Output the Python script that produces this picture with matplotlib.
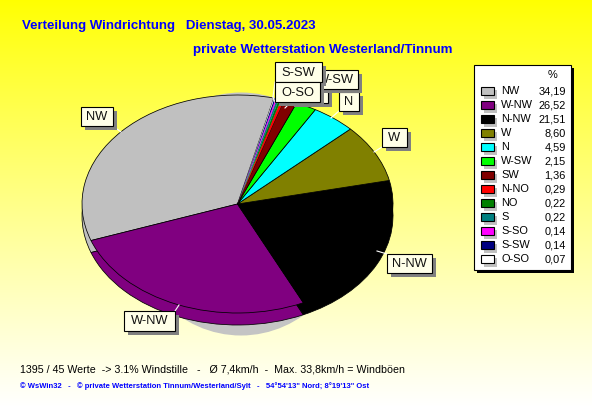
import numpy as np
import matplotlib
matplotlib.use("Agg")
import matplotlib.pyplot as plt
from matplotlib.patches import Rectangle, Ellipse

categories = ["NW", "W-NW", "N-NW", "W", "N", "W-SW", "SW", "N-NO", "NO", "S", "S-SO", "S-SW", "O-SO"]
values = [34.19, 26.52, 21.51, 8.60, 4.59, 2.15, 1.36, 0.29, 0.22, 0.22, 0.14, 0.14, 0.07]
value_labels = ["34,19", "26,52", "21,51", "8,60", "4,59", "2,15", "1,36", "0,29", "0,22", "0,22", "0,14", "0,14", "0,07"]
colors = ["#c0c0c0", "#800080", "#000000", "#808000", "#00ffff", "#00ff00", "#800000",
          "#ff0000", "#008000", "#008080", "#ff00ff", "#000080", "#ffffff"]

W, H = 592, 407
CX, CY, RX, RY, DEPTH = 237.5, 204, 155.5, 109, 12
plt.rcParams["font.family"] = ["Liberation Sans", "DejaVu Sans"]
fig = plt.figure(figsize=(W / 100, H / 100), dpi=100)

# gradient background, pixel coordinates
bg = fig.add_axes([0, 0, 1, 1], zorder=0)
bg.axis("off")
ramp = np.ones((H, 1, 3))
ramp[:, 0, 2] = np.linspace(0, 1, H) ** 0.9
bg.imshow(ramp, extent=(0, W, H, 0), aspect="auto", zorder=0)
bg.set_xlim(0, W); bg.set_ylim(H, 0)
bg.add_patch(Ellipse((241, 214), 226, 243, fc="#c4c4c4", ec="none", zorder=1))

# pie: unit circle mapped to an ellipse
ax = fig.add_axes([0, 0, 1, 1], zorder=1)
ax.patch.set_alpha(0)
START = 76.5
for cy in (-DEPTH / RY, 0):
    wedges, _ = ax.pie(values, colors=colors, startangle=START, center=(0, cy),
                       wedgeprops=dict(edgecolor="black", linewidth=0.55))
    for wedge, v in zip(wedges, values):
        if v < 1:
            wedge.set_linewidth(0)
ax.set_aspect("auto")
ax.set_xlim(-CX / RX, (W - CX) / RX)
ax.set_ylim(-(H - CY) / RY, CY / RY)
ax.axis("off")

# overlay with texts, callouts and legend
ov = fig.add_axes([0, 0, 1, 1], zorder=2)
ov.set_xlim(0, W); ov.set_ylim(H, 0); ov.axis("off"); ov.patch.set_alpha(0)

BLUE = "#0000ff"
ov.text(22, 26.5, "Verteilung Windrichtung   Dienstag, 30.05.2023", color=BLUE, fontsize=9.5,
        fontweight="bold", va="center", ha="left")
ov.text(193, 49.5, "private Wetterstation Westerland/Tinnum", color=BLUE, fontsize=9.6,
        fontweight="bold", va="center", ha="left")
ov.text(20, 369, "1395 / 45 Werte  -> 3.1% Windstille   -   Ø 7,4km/h  -  Max. 33,8km/h = Windböen",
        color="black", fontsize=7.7, va="center", ha="left")
ov.text(20, 386, "© WsWin32   -   © private Wetterstation Tinnum/Westerland/Sylt   -   54°54'13\" Nord; 8°19'13\" Ost",
        color=BLUE, fontsize=5.5, fontweight="bold", va="center", ha="left")

# callouts: label, box (x0, y0, x1, y1), leader (x0, y0, x1, y1)
callouts = [
    ("NW", (81, 107, 113, 126), (113, 126, 121, 132)),
    ("W-NW", (124, 311, 175, 331), (175, 311, 179, 305)),
    ("N-NW", (387, 254, 432, 273), (387, 254, 377, 251)),
    ("W", (382, 128, 407, 147), (382, 147, 374, 152)),
    ("N", (339, 92, 359, 111), (339, 111, 331, 118)),
    ("", (290, 83, 328, 103), (290, 103, 285, 108)),
    ("W-SW", (313, 70, 358, 89), (313, 89, 300, 105)),
    ("S-SW", (275, 62, 322, 82), (275, 82, 273, 97)),
    ("O-SO", (275, 82, 320, 102), (275, 102, 273, 97)),
]
for i, (lab, (x0, y0, x1, y1), (lx0, ly0, lx1, ly1)) in enumerate(callouts):
    z = 3 + i
    ov.plot([lx0, lx1], [ly0, ly1], color="white", lw=0.8, zorder=z)
    ov.add_patch(Rectangle((x0 + 4, y0 + 4), x1 - x0, y1 - y0, fc="#808080", ec="none", zorder=z))
    ov.add_patch(Rectangle((x0, y0), x1 - x0, y1 - y0, fc="#ffffe8", ec="black", lw=0.8, zorder=z))
    if lab:
        ov.text((x0 + x1) / 2, (y0 + y1) / 2 + 0.5, lab, fontsize=9.3, color="#111111",
                ha="center", va="center", zorder=z)

# legend
LZ = 20
ov.add_patch(Rectangle((477, 68), 97, 205, fc="black", ec="none", zorder=LZ))
ov.add_patch(Rectangle((474, 65), 97, 205, fc="white", ec="black", lw=0.8, zorder=LZ))
ov.text(553, 75, "%", fontsize=7.9, ha="center", va="center", zorder=LZ)
for i, (c, lab, val) in enumerate(zip(colors, categories, value_labels)):
    y = 91 + i * 14
    ov.add_patch(Rectangle((484, y - 1), 13, 9, fc="#c0c0c0", ec="none", zorder=LZ))
    ov.add_patch(Rectangle((481, y - 4), 12.5, 7.5, fc=c, ec="black", lw=0.8, zorder=LZ))
    ov.text(501, y, lab, fontsize=7.9, ha="left", va="center", zorder=LZ)
    ov.text(566, y, val, fontsize=7.9, ha="right", va="center", zorder=LZ)

fig.savefig("out.png", dpi=100)
